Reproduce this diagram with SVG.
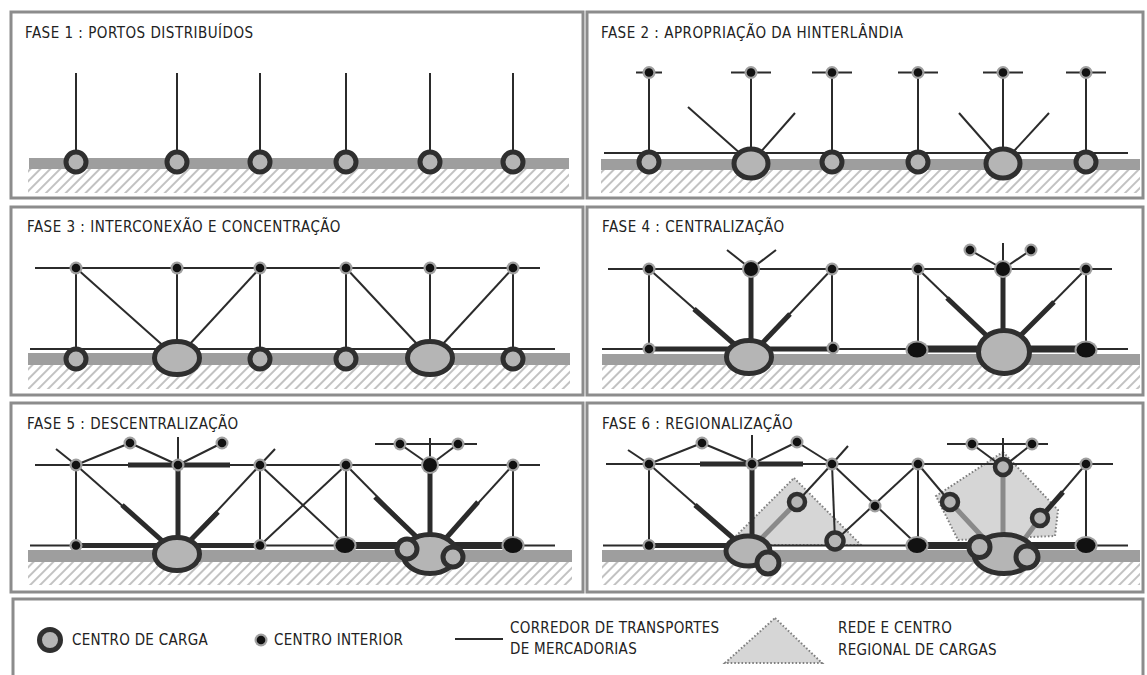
<svg xmlns="http://www.w3.org/2000/svg" width="1147" height="675" viewBox="0 0 1147 675">
<style>
.bg{fill:#fff}
.frame{fill:none;stroke:#8c8c8c;stroke-width:3}
.band{fill:#9e9e9e}
.hatch{fill:url(#hatch)}
.ln{stroke:#2b2b2b;stroke-width:2;fill:none}
.thk{stroke:#2b2b2b;stroke-width:5;fill:none}
.xthk{stroke:#2b2b2b;stroke-width:7;fill:none}
.gln{stroke:#8a8a8a;stroke-width:5;fill:none}
.port{fill:#b5b5b5;stroke:#2f2f2f;stroke-width:5}
.rport{fill:#b5b5b5;stroke:#2f2f2f;stroke-width:4.5}
.region{fill:#d6d6d6;stroke:#808080;stroke-width:2;stroke-dasharray:1.6 2}
.title{font-family:"DejaVu Sans Condensed","DejaVu Sans","Liberation Sans",sans-serif;font-stretch:condensed;font-size:15px;fill:#222;letter-spacing:0.5px}
.leg{font-family:"DejaVu Sans Condensed","DejaVu Sans","Liberation Sans",sans-serif;font-stretch:condensed;font-size:15px;fill:#222;letter-spacing:0.3px}
</style>
<defs>
<pattern id="hatch" patternUnits="userSpaceOnUse" width="7" height="7" patternTransform="rotate(45)">
<line x1="1" y1="0" x2="1" y2="7" stroke="#adadad" stroke-width="1.5"/>
</pattern>
<g id="dot"><circle r="6.5" fill="#a0a0a0"/><circle r="4.3" fill="#111"/></g>
<g id="dotL"><circle r="9" fill="#a0a0a0"/><circle r="7" fill="#111"/></g>
<g id="dotE"><ellipse rx="11.5" ry="9.5" fill="#a0a0a0"/><ellipse rx="9.5" ry="7.5" fill="#111"/></g>
</defs>
<rect class="bg" x="0" y="0" width="1147" height="675"/>

<!-- PANEL 1 -->
<g id="panel1">
<rect class="frame" x="11" y="12" width="572" height="186"/>
<text class="title" x="25" y="38">FASE 1 : PORTOS DISTRIBUÍDOS</text>
<rect class="hatch" x="28" y="169" width="541" height="24"/>
<rect class="band" x="29" y="158" width="540" height="11"/>
<g id="p1-connectors">
<line class="ln" x1="76" y1="73" x2="76" y2="162"/>
<line class="ln" x1="177" y1="73" x2="177" y2="162"/>
<line class="ln" x1="260" y1="73" x2="260" y2="162"/>
<line class="ln" x1="346" y1="73" x2="346" y2="162"/>
<line class="ln" x1="430" y1="73" x2="430" y2="162"/>
<line class="ln" x1="513" y1="73" x2="513" y2="162"/>
</g>
<g id="p1-port1"><circle class="port" cx="76" cy="162" r="10"/></g>
<g id="p1-port2"><circle class="port" cx="177" cy="162" r="10"/></g>
<g id="p1-port3"><circle class="port" cx="260" cy="162" r="10"/></g>
<g id="p1-port4"><circle class="port" cx="346" cy="162" r="10"/></g>
<g id="p1-port5"><circle class="port" cx="430" cy="162" r="10"/></g>
<g id="p1-port6"><circle class="port" cx="513" cy="162" r="10"/></g>
</g>

<!-- PANEL 2 -->
<g id="panel2">
<rect class="frame" x="587" y="12" width="556" height="186"/>
<text class="title" x="601" y="38">FASE 2 : APROPRIAÇÃO DA HINTERLÂNDIA</text>
<rect class="hatch" x="601" y="170" width="539" height="23"/>
<rect class="band" x="601" y="159" width="539" height="11"/>
<g id="p2-connectors">
<line class="ln" x1="604" y1="153" x2="1128" y2="153"/>
<line class="ln" x1="636" y1="72.5" x2="662" y2="72.5"/>
<line class="ln" x1="731" y1="72.5" x2="771" y2="72.5"/>
<line class="ln" x1="812" y1="72.5" x2="852" y2="72.5"/>
<line class="ln" x1="898" y1="72.5" x2="938" y2="72.5"/>
<line class="ln" x1="983" y1="72.5" x2="1023" y2="72.5"/>
<line class="ln" x1="1066" y1="72.5" x2="1106" y2="72.5"/>
<line class="ln" x1="649" y1="72.5" x2="649" y2="162"/>
<line class="ln" x1="751" y1="72.5" x2="751" y2="163"/>
<line class="ln" x1="832" y1="72.5" x2="832" y2="162"/>
<line class="ln" x1="918" y1="72.5" x2="918" y2="162"/>
<line class="ln" x1="1003" y1="72.5" x2="1003" y2="163"/>
<line class="ln" x1="1086" y1="72.5" x2="1086" y2="162"/>
<line class="ln" x1="688" y1="107" x2="751" y2="163"/>
<line class="ln" x1="795" y1="113" x2="751" y2="163"/>
<line class="ln" x1="959" y1="113" x2="1003" y2="163"/>
<line class="ln" x1="1049" y1="113" x2="1003" y2="163"/>
</g>
<g id="p2-in1"><use href="#dot" x="649" y="72.5"/></g>
<g id="p2-in2"><use href="#dot" x="751" y="72.5"/></g>
<g id="p2-in3"><use href="#dot" x="832" y="72.5"/></g>
<g id="p2-in4"><use href="#dot" x="918" y="72.5"/></g>
<g id="p2-in5"><use href="#dot" x="1003" y="72.5"/></g>
<g id="p2-in6"><use href="#dot" x="1086" y="72.5"/></g>
<g id="p2-port1"><circle class="port" cx="649" cy="162" r="10"/></g>
<g id="p2-port2"><ellipse class="port" cx="751" cy="163.5" rx="17" ry="14.5"/></g>
<g id="p2-port3"><circle class="port" cx="832" cy="162" r="10"/></g>
<g id="p2-port4"><circle class="port" cx="918" cy="162" r="10"/></g>
<g id="p2-port5"><ellipse class="port" cx="1003" cy="163.5" rx="17" ry="14.5"/></g>
<g id="p2-port6"><circle class="port" cx="1086" cy="162" r="10"/></g>
</g>

<!-- PANEL 3 -->
<g id="panel3">
<rect class="frame" x="11" y="207" width="572" height="188"/>
<text class="title" x="27" y="232">FASE 3 : INTERCONEXÃO E CONCENTRAÇÃO</text>
<rect class="hatch" x="28" y="365" width="542" height="24"/>
<rect class="band" x="28" y="353" width="542" height="12"/>
<g id="p3-connectors">
<line class="ln" x1="35" y1="268" x2="540" y2="268"/>
<line class="ln" x1="30" y1="349" x2="555" y2="349"/>
<line class="ln" x1="346" y1="349" x2="430" y2="349" stroke-width="4"/>
<line class="ln" x1="76" y1="268" x2="76" y2="359"/>
<line class="ln" x1="177" y1="268" x2="177" y2="358"/>
<line class="ln" x1="260" y1="268" x2="260" y2="359"/>
<line class="ln" x1="346" y1="268" x2="346" y2="359"/>
<line class="ln" x1="430" y1="268" x2="430" y2="358"/>
<line class="ln" x1="513" y1="268" x2="513" y2="359"/>
<line class="ln" x1="76" y1="268" x2="177" y2="358"/>
<line class="ln" x1="260" y1="268" x2="177" y2="358"/>
<line class="ln" x1="346" y1="268" x2="430" y2="358"/>
<line class="ln" x1="513" y1="268" x2="430" y2="358"/>
</g>
<g id="p3-in1"><use href="#dot" x="76" y="268"/></g>
<g id="p3-in2"><use href="#dot" x="177" y="268"/></g>
<g id="p3-in3"><use href="#dot" x="260" y="268"/></g>
<g id="p3-in4"><use href="#dot" x="346" y="268"/></g>
<g id="p3-in5"><use href="#dot" x="430" y="268"/></g>
<g id="p3-in6"><use href="#dot" x="513" y="268"/></g>
<g id="p3-port1"><circle class="port" cx="76" cy="359" r="10"/></g>
<g id="p3-port2"><ellipse class="port" cx="177" cy="358" rx="22.5" ry="16.5"/></g>
<g id="p3-port3"><circle class="port" cx="260" cy="359" r="10"/></g>
<g id="p3-port4"><circle class="port" cx="346" cy="359" r="10"/></g>
<g id="p3-port5"><ellipse class="port" cx="430" cy="358" rx="22.5" ry="16.5"/></g>
<g id="p3-port6"><circle class="port" cx="513" cy="359" r="10"/></g>
</g>

<!-- PANEL 4 -->
<g id="panel4">
<rect class="frame" x="587" y="207" width="556" height="188"/>
<text class="title" x="602" y="232">FASE 4 : CENTRALIZAÇÃO</text>
<rect class="hatch" x="602" y="365" width="538" height="24"/>
<rect class="band" x="602" y="354" width="538" height="11"/>
<g id="p4-connectors">
<line class="ln" x1="608" y1="269" x2="1112" y2="269"/>
<line class="ln" x1="602" y1="349" x2="1128" y2="349"/>
<line class="thk" x1="649" y1="349" x2="832" y2="349"/>
<line class="xthk" x1="918" y1="349" x2="1086" y2="349"/>
<line class="ln" x1="751" y1="269" x2="727" y2="250"/>
<line class="ln" x1="751" y1="269" x2="776" y2="250"/>
<line class="ln" x1="1003" y1="269" x2="1003" y2="243"/>
<line class="ln" x1="1003" y1="269" x2="970" y2="250"/>
<line class="ln" x1="1003" y1="269" x2="1031" y2="250"/>
<line class="ln" x1="649" y1="269" x2="649" y2="349"/>
<line class="thk" x1="751" y1="269" x2="751" y2="357"/>
<line class="ln" x1="832" y1="269" x2="832" y2="349"/>
<line class="ln" x1="918" y1="269" x2="918" y2="349"/>
<line class="thk" x1="1003" y1="269" x2="1003" y2="352"/>
<line class="ln" x1="1086" y1="269" x2="1086" y2="349"/>
<line class="ln" x1="649" y1="269" x2="749" y2="357"/>
<line class="thk" x1="694" y1="309" x2="749" y2="357"/>
<line class="ln" x1="832" y1="269" x2="749" y2="357"/>
<line class="thk" x1="790" y1="314" x2="749" y2="357"/>
<line class="ln" x1="918" y1="269" x2="1004" y2="352"/>
<line class="thk" x1="947" y1="298" x2="1004" y2="352"/>
<line class="ln" x1="1086" y1="269" x2="1004" y2="352"/>
<line class="thk" x1="1054" y1="302" x2="1004" y2="352"/>
</g>
<g id="p4-in1"><use href="#dot" x="649" y="269"/></g>
<g id="p4-in2"><use href="#dotL" x="751" y="269"/></g>
<g id="p4-in3"><use href="#dot" x="832" y="269"/></g>
<g id="p4-in4"><use href="#dot" x="918" y="269"/></g>
<g id="p4-in5"><use href="#dotL" x="1003" y="269"/></g>
<g id="p4-in6"><use href="#dot" x="1086" y="269"/></g>
<g id="p4-in7"><use href="#dot" x="970" y="250"/></g>
<g id="p4-in8"><use href="#dot" x="1031" y="250"/></g>
<g id="p4-in9"><use href="#dot" x="649" y="349"/></g>
<g id="p4-in10"><use href="#dot" x="833" y="348"/></g>
<g id="p4-in11"><use href="#dotE" x="917" y="350"/></g>
<g id="p4-in12"><use href="#dotE" x="1086" y="350"/></g>
<g id="p4-port1"><ellipse class="port" cx="749" cy="357" rx="22.5" ry="16.5"/></g>
<g id="p4-port2"><ellipse class="port" cx="1004" cy="352" rx="25.5" ry="21.5"/></g>
</g>

<!-- PANEL 5 -->
<g id="panel5">
<rect class="frame" x="11" y="403" width="572" height="189"/>
<text class="title" x="27" y="429">FASE 5 : DESCENTRALIZAÇÃO</text>
<rect class="hatch" x="28" y="562" width="544" height="23"/>
<rect class="band" x="28" y="550" width="544" height="12"/>
<g id="p5-connectors">
<line class="ln" x1="35" y1="465" x2="540" y2="465"/>
<line class="ln" x1="30" y1="545.5" x2="555" y2="545.5"/>
<line class="thk" x1="76" y1="545.5" x2="260" y2="545.5"/>
<line class="xthk" x1="346" y1="545.5" x2="513" y2="545.5"/>
<line class="thk" x1="128" y1="465" x2="230" y2="465" stroke-width="4"/>
<line class="ln" x1="76" y1="465" x2="56" y2="449"/>
<line class="ln" x1="76" y1="465" x2="130" y2="443"/>
<line class="ln" x1="130" y1="443" x2="178" y2="465"/>
<line class="ln" x1="178" y1="465" x2="178" y2="437"/>
<line class="ln" x1="178" y1="465" x2="222" y2="443"/>
<line class="ln" x1="260" y1="465" x2="275" y2="449"/>
<line class="ln" x1="375" y1="444" x2="477" y2="444"/>
<line class="ln" x1="430" y1="438" x2="430" y2="465"/>
<line class="ln" x1="400" y1="444" x2="430" y2="465"/>
<line class="ln" x1="458" y1="444" x2="430" y2="465"/>
<line class="ln" x1="76" y1="465" x2="76" y2="545.5"/>
<line class="thk" x1="178" y1="465" x2="178" y2="554"/>
<line class="ln" x1="260" y1="465" x2="260" y2="545.5"/>
<line class="ln" x1="346" y1="465" x2="346" y2="545.5"/>
<line class="thk" x1="430" y1="465" x2="430" y2="550"/>
<line class="ln" x1="513" y1="465" x2="513" y2="545.5"/>
<line class="ln" x1="76" y1="465" x2="177" y2="554"/>
<line class="thk" x1="122" y1="505" x2="177" y2="554"/>
<line class="ln" x1="260" y1="465" x2="177" y2="554"/>
<line class="thk" x1="218" y1="512" x2="177" y2="554"/>
<line class="ln" x1="260" y1="465" x2="346" y2="545.5"/>
<line class="ln" x1="346" y1="465" x2="260" y2="545.5"/>
<line class="ln" x1="346" y1="465" x2="425" y2="545"/>
<line class="thk" x1="375" y1="497" x2="425" y2="545"/>
<line class="ln" x1="513" y1="465" x2="440" y2="545"/>
<line class="thk" x1="478" y1="502" x2="440" y2="545"/>
</g>
<g id="p5-in1"><use href="#dot" x="76" y="465"/></g>
<g id="p5-in2"><use href="#dot" x="178" y="465"/></g>
<g id="p5-in3"><use href="#dot" x="260" y="465"/></g>
<g id="p5-in4"><use href="#dot" x="346" y="465"/></g>
<g id="p5-in5"><use href="#dotL" x="430" y="465"/></g>
<g id="p5-in6"><use href="#dot" x="513" y="465"/></g>
<g id="p5-in7"><use href="#dot" x="130" y="443"/></g>
<g id="p5-in8"><use href="#dot" x="222" y="443"/></g>
<g id="p5-in9"><use href="#dot" x="400" y="444"/></g>
<g id="p5-in10"><use href="#dot" x="458" y="444"/></g>
<g id="p5-in11"><use href="#dot" x="76" y="545.5"/></g>
<g id="p5-in12"><use href="#dot" x="260" y="545.5"/></g>
<g id="p5-in13"><use href="#dotE" x="345" y="545.5"/></g>
<g id="p5-in14"><use href="#dotE" x="513" y="545.5"/></g>
<g id="p5-port1"><ellipse class="port" cx="177" cy="554" rx="22.5" ry="16.5"/></g>
<g id="p5-port2">
<ellipse class="port" cx="430" cy="554" rx="27" ry="19.5"/>
<circle class="port" cx="407" cy="549" r="10"/>
<circle class="port" cx="453" cy="557" r="10"/>
</g>
</g>

<!-- PANEL 6 -->
<g id="panel6">
<rect class="frame" x="587" y="403" width="556" height="189"/>
<text class="title" x="602" y="429">FASE 6 : REGIONALIZAÇÃO</text>
<rect class="hatch" x="602" y="562" width="538" height="23"/>
<rect class="band" x="602" y="550" width="538" height="12"/>
<g id="p6-region1"><polygon class="region" points="794,478 861,545 727,545"/></g>
<g id="p6-region2"><polygon class="region" points="1003,452 1058,510 1055,536 958,540 936,496"/></g>
<g id="p6-connectors">
<line class="ln" x1="606" y1="464" x2="1113" y2="464"/>
<line class="ln" x1="603" y1="545.5" x2="1128" y2="545.5"/>
<line class="thk" x1="649" y1="545.5" x2="735" y2="545.5"/>
<line class="xthk" x1="918" y1="545.5" x2="1086" y2="545.5"/>
<line class="thk" x1="700" y1="464" x2="803" y2="464" stroke-width="4"/>
<line class="ln" x1="649" y1="464" x2="628" y2="450"/>
<line class="ln" x1="649" y1="464" x2="702" y2="443"/>
<line class="ln" x1="702" y1="443" x2="752" y2="464"/>
<line class="ln" x1="752" y1="464" x2="752" y2="435"/>
<line class="ln" x1="752" y1="464" x2="797" y2="442"/>
<line class="ln" x1="797" y1="442" x2="832" y2="464"/>
<line class="ln" x1="832" y1="464" x2="848" y2="446"/>
<line class="ln" x1="947" y1="444" x2="1048" y2="444"/>
<line class="ln" x1="1003" y1="438" x2="1003" y2="460"/>
<line class="ln" x1="972" y1="444" x2="1003" y2="467"/>
<line class="ln" x1="1032" y1="444" x2="1003" y2="467"/>
<line class="ln" x1="649" y1="464" x2="649" y2="545.5"/>
<line class="ln" x1="649" y1="464" x2="748" y2="551"/>
<line class="thk" x1="695" y1="505" x2="748" y2="551"/>
<line class="thk" x1="752" y1="464" x2="752" y2="545"/>
<line class="ln" x1="832" y1="464" x2="797" y2="502"/>
<line class="ln" x1="832" y1="464" x2="835" y2="541"/>
<line class="ln" x1="832" y1="464" x2="918" y2="545.5"/>
<line class="ln" x1="918" y1="464" x2="835" y2="541"/>
<line class="ln" x1="918" y1="464" x2="918" y2="545.5"/>
<line class="ln" x1="918" y1="464" x2="950" y2="502"/>
<line class="ln" x1="1086" y1="464" x2="1086" y2="545.5"/>
<line class="ln" x1="1086" y1="464" x2="1040" y2="518"/>
<line class="thk" x1="1063" y1="492" x2="1040" y2="518"/>
<line class="gln" x1="752" y1="548" x2="797" y2="502"/>
<line class="gln" x1="1003" y1="467" x2="1003" y2="550"/>
<line class="gln" x1="950" y1="502" x2="990" y2="545"/>
<line class="gln" x1="1040" y1="518" x2="1018" y2="548"/>
</g>
<g id="p6-in1"><use href="#dot" x="649" y="464"/></g>
<g id="p6-in2"><use href="#dot" x="752" y="464"/></g>
<g id="p6-in3"><use href="#dot" x="832" y="464"/></g>
<g id="p6-in4"><use href="#dot" x="918" y="464"/></g>
<g id="p6-in5"><use href="#dot" x="1086" y="464"/></g>
<g id="p6-in6"><use href="#dot" x="702" y="443"/></g>
<g id="p6-in7"><use href="#dot" x="797" y="442"/></g>
<g id="p6-in8"><use href="#dot" x="972" y="444"/></g>
<g id="p6-in9"><use href="#dot" x="1032" y="444"/></g>
<g id="p6-in10"><use href="#dot" x="875" y="506"/></g>
<g id="p6-in11"><use href="#dot" x="649" y="545.5"/></g>
<g id="p6-in12"><use href="#dotE" x="917" y="545.5"/></g>
<g id="p6-in13"><use href="#dotE" x="1086" y="545.5"/></g>
<g id="p6-reg1"><circle class="rport" cx="797" cy="502" r="8"/></g>
<g id="p6-reg2"><circle class="rport" cx="835" cy="541" r="8.5"/></g>
<g id="p6-reg3"><circle class="rport" cx="1003" cy="467" r="8"/></g>
<g id="p6-reg4"><circle class="rport" cx="950" cy="502" r="8"/></g>
<g id="p6-reg5"><circle class="rport" cx="1040" cy="518" r="8"/></g>
<g id="p6-port1">
<ellipse class="port" cx="748" cy="551" rx="22" ry="15"/>
<circle class="port" cx="768" cy="563" r="11"/>
</g>
<g id="p6-port2">
<ellipse class="port" cx="1004" cy="554" rx="30" ry="19.5"/>
<circle class="port" cx="979.5" cy="547" r="10.5"/>
<circle class="port" cx="1027" cy="557" r="11"/>
</g>
</g>

<!-- LEGEND -->
<g id="legend">
<rect class="frame" x="13" y="599" width="1130" height="90"/>
<g id="leg-carga"><circle class="port" cx="50" cy="640" r="10.5" stroke-width="6"/><text class="leg" x="72" y="645">CENTRO DE CARGA</text></g>
<g id="leg-interior"><use href="#dot" x="261" y="640"/><text class="leg" x="274" y="645">CENTRO INTERIOR</text></g>
<g id="leg-corredor"><line class="ln" x1="455" y1="639" x2="503" y2="639"/><text class="leg" x="510" y="633">CORREDOR DE TRANSPORTES</text><text class="leg" x="510" y="654">DE MERCADORIAS</text></g>
<g id="leg-rede"><polygon class="region" points="775,618 822,663 725,663"/><text class="leg" x="838" y="633">REDE E CENTRO</text><text class="leg" x="838" y="655">REGIONAL DE CARGAS</text></g>
</g>
</svg>
